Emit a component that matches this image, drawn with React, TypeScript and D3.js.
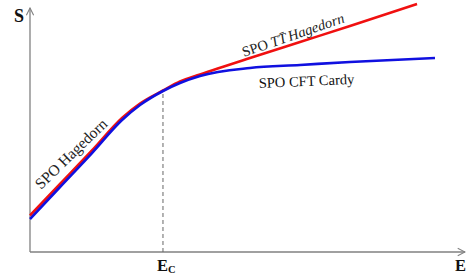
import React from 'react';
import * as d3 from 'd3';

// energy (E) and entropy (S), arbitrary units
const redE = [0, 6.9, 14.25, 21.15, 25.29, 30.57, 34.48, 39.08, 50.57, 62.07, 73.56, 88.97];
const redS = [14.96, 27.87, 41.6, 54.92, 60.86, 66.19, 69.88, 72.75, 79.51, 86.07, 92.62, 101.64];
const blueE = [0, 6.9, 14.25, 21.15, 25.29, 30.57, 34.48, 39.08, 50.57, 62.07, 73.56, 93.1];
const blueS = [13.52, 26.64, 40.57, 54.1, 60.25, 65.98, 69.26, 72.13, 75.41, 76.64, 77.87, 79.51];
const Ec = 30.57;

const W = 468;
const H = 276;
const x0 = 30, x1 = 465, yb = 252, yt = 8;

const App = () => {
  const x = d3.scaleLinear().domain([0, 100]).range([x0, x1]);
  const y = d3.scaleLinear().domain([0, 100]).range([yb, yt]);

  const line = d3.line<[number, number]>()
    .x(d => x(d[0]))
    .y(d => y(d[1]))
    .curve(d3.curveMonotoneX);

  const red = redE.map((e, i) => [e, redS[i]] as [number, number]);
  const blue = blueE.map((e, i) => [e, blueS[i]] as [number, number]);

  // S at Ec, taken from the blue series
  const sEc = blueS[blueE.indexOf(Ec)];

  const serif = '"Liberation Serif", "DejaVu Serif", serif';

  return (
    <svg width={W} height={H} style={{ position: 'absolute', left: 0, top: 0, background: '#fff' }}
      fontFamily={serif}>
      <defs>
        <marker id="arr" viewBox="0 0 10 10" refX="9" refY="5" markerWidth="7" markerHeight="7" orient="auto">
          <path d="M1,1 L9,5 L1,9" fill="none" stroke="#808080" strokeWidth="1.2" />
        </marker>
      </defs>

      {/* axes */}
      <line x1={x0} y1={yb} x2={x0} y2={yt} stroke="#808080" strokeWidth={1.3} markerEnd="url(#arr)" />
      <line x1={x0} y1={yb} x2={x1} y2={yb} stroke="#808080" strokeWidth={1.3} markerEnd="url(#arr)" />

      {/* Ec guide */}
      <line x1={x(Ec)} y1={yb} x2={x(Ec)} y2={y(sEc)} stroke="#666" strokeWidth={1} strokeDasharray="4,3" />

      {/* curves */}
      <path d={line(red) || ''} fill="none" stroke="#f01010" strokeWidth={2.6} />
      <path d={line(blue) || ''} fill="none" stroke="#1010e0" strokeWidth={2.6} />

      {/* axis labels */}
      <text x={14} y={22} fontSize={18} fontWeight="bold" fill="#111">S</text>
      <text x={455} y={271} fontSize={16.5} fontWeight="bold" fill="#111">E</text>
      <text x={x(Ec) - 6} y={271} fontSize={16.5} fontWeight="bold" fill="#111">
        E<tspan fontSize={10.5} dy={1.5}>C</tspan>
      </text>

      {/* curve labels */}
      <text transform="translate(41,190) rotate(-44)" fontSize={15.5} fill="#222">SPO Hagedorn</text>
      <text transform="translate(244,57) rotate(-19)" fontSize={14.5} fill="#222">
        SPO <tspan fontStyle="italic">T</tspan><tspan fontStyle="italic">{'T\u0304'}</tspan>
        <tspan fontStyle="italic" dx={2}>Hagedorn</tspan>
      </text>
      <text transform="translate(259,88) rotate(-2.5)" fontSize={14.5} fill="#111">SPO CFT Cardy</text>
    </svg>
  );
};

export default App;
